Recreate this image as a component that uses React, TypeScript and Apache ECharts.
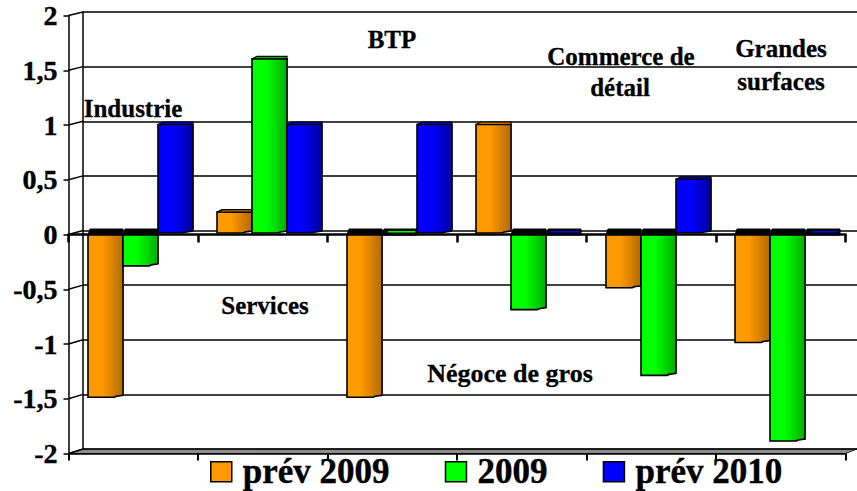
import React, { useEffect, useRef } from "react";
import * as echarts from "echarts";

const categories = ["Industrie", "Services", "BTP", "Négoce de gros", "Commerce de détail", "Grandes surfaces"];
const prev2009 = [-1.5, 0.2, -1.5, 1, -0.5, -1];
const real2009 = [-0.3, 1.6, 0, -0.7, -1.3, -1.9];
const prev2010 = [1, 1, 1, 0, 0.5, 0];
const seriesNames = ["prév 2009", "2009", "prév 2010"];
const seriesColors = ["#ff9900", "#00ff00", "#0000ff"];
const seriesDark = ["#b86e00", "#00b400", "#0000aa"];
const yTicks = [-2, -1.5, -1, -0.5, 0, 0.5, 1, 1.5, 2];

const FONT = '"Liberation Serif", serif';
const W = 857;
const H = 491;
const front = { left: 68.5, top: 15.5, width: 777, height: 438 };
const back = { left: 83, top: 12, width: 774, height: 437 };
const plane = { left: 75.5, top: 14, width: 777, height: 438 };
const BAR_FRACTION = 35 / 129.5;

const categoryLabels = [
  { text: "Industrie", x: 133, y: 108, size: 25 },
  { text: "BTP", x: 392, y: 39, size: 25 },
  { text: "Commerce de", x: 621, y: 56, size: 25 },
  { text: "détail", x: 620, y: 87, size: 25 },
  { text: "Grandes", x: 781, y: 48, size: 25 },
  { text: "surfaces", x: 781, y: 81, size: 25 },
  { text: "Services", x: 265, y: 305, size: 25 },
  { text: "Négoce de gros", x: 510, y: 373, size: 26 },
];

function makeRenderItem(seriesIndex: number) {
  const color = seriesColors[seriesIndex];
  const dark = seriesDark[seriesIndex];
  const fill = new echarts.graphic.LinearGradient(0, 0, 1, 0, [
    { offset: 0, color },
    { offset: 0.4, color },
    { offset: 0.95, color: dark },
    { offset: 1, color: dark },
  ]);
  return (params: any, api: any) => {
    const cat = api.value(0);
    const val = api.value(1);
    const band = api.size([1, 0])[0];
    const w = band * BAR_FRACTION;
    const center = api.coord([cat, 0])[0];
    const x = Math.round(center + (seriesIndex - 1.5) * w);
    const zero = api.coord([cat, 0])[1];
    const end = api.coord([cat, val])[1];
    const children: any[] = [];
    const capStyle = { fill: "#000", stroke: "#000", lineWidth: 1 };
    if (val <= 0) {
      const top = zero + 2;
      children.push({
        type: "polygon",
        shape: { points: [[x, top], [x + 2, top - 6], [x + w, top - 6], [x + w, top]] },
        style: capStyle,
      });
      if (val === 0) {
        children.push({
          type: "rect",
          shape: { x: x + 6, y: top - 4, width: w - 8, height: 1.5 },
          style: { fill: color },
        });
      }
    }
    if (val !== 0) {
      const top = val > 0 ? end + 1 : zero + 2;
      const bottom = val > 0 ? zero : end;
      const pts = [[x, top], [x + w, top], [x + w, bottom - 2], [x + w * 0.8, bottom - 1], [x + w * 0.75, bottom], [x, bottom]];
      children.push({
        type: "polygon",
        shape: { points: pts.map((p) => [p[0] + 1, p[1] + 0.5]) },
        style: { fill: "#a8a8a8" },
      });
      children.push({
        type: "polygon",
        shape: { points: pts },
        style: { fill, stroke: "#000", lineWidth: 1.6 },
      });
      if (val > 0) {
        children.push({
          type: "polygon",
          shape: { points: [[x, top], [x + 5, top - 2.5], [x + w, top - 2.5], [x + w, top]] },
          style: { fill: dark, stroke: "#000", lineWidth: 1.2 },
        });
      }
    }
    return { type: "group", children };
  };
}

function decorations() {
  const elements: any[] = [];
  const frontY = (v: number) => front.top + ((2 - v) / 4) * front.height;
  const backY = (v: number) => back.top + ((2 - v) / 4) * back.height;
  elements.push({
    type: "polygon",
    shape: {
      points: [
        [front.left, frontY(-2)],
        [back.left, backY(-2)],
        [W, backY(-2)],
        [front.left + front.width, frontY(-2)],
      ],
    },
    style: { fill: "#8c8c8c", stroke: "#222", lineWidth: 1 },
  });
  yTicks.forEach((v) => {
    elements.push({
      type: "line",
      shape: { x1: front.left, y1: frontY(v), x2: back.left, y2: backY(v) },
      style: { stroke: "#000", lineWidth: 1.5 },
    });
  });
  categoryLabels.forEach((l) => {
    elements.push({
      type: "text",
      x: l.x,
      y: l.y,
      style: {
        text: l.text,
        fill: "#000",
        font: `bold ${l.size}px ${FONT}`,
        textAlign: "center",
        textVerticalAlign: "middle",
        stroke: "#000",
        lineWidth: 0.3,
      },
      z: 20,
    });
  });
  return elements;
}

export default function App() {
  const ref = useRef<HTMLDivElement>(null);
  useEffect(() => {
    document.body.style.margin = "0";
    const chart = echarts.init(ref.current!, undefined, { renderer: "svg" });
    const values = [prev2009, real2009, prev2010];
    chart.setOption({
      animation: false,
      backgroundColor: "#fff",
      color: seriesColors,
      textStyle: { fontFamily: FONT },
      grid: [
        { ...back },
        { ...front },
        { ...plane },
      ],
      xAxis: [
        { type: "category", gridIndex: 0, data: categories, show: false },
        {
          type: "category",
          gridIndex: 1,
          data: categories,
          position: "top",
          axisLine: { onZero: true, lineStyle: { color: "#000", width: 2.5 } },
          axisTick: { show: true, inside: true, length: 8, lineStyle: { color: "#000", width: 2.5 } },
          axisLabel: { show: false },
        },
        {
          type: "category",
          gridIndex: 1,
          data: categories,
          position: "bottom",
          axisLine: { onZero: false, lineStyle: { color: "#000", width: 1.5 } },
          axisTick: { show: true, length: 7, lineStyle: { color: "#000", width: 2 } },
          axisLabel: { show: false },
        },
        { type: "category", gridIndex: 2, data: categories, show: false },
      ],
      yAxis: [
        {
          type: "value",
          gridIndex: 0,
          min: -2,
          max: 2,
          interval: 0.5,
          axisLine: { show: true, onZero: false, lineStyle: { color: "#000", width: 1.5 } },
          axisTick: { show: false },
          axisLabel: { show: false },
          splitLine: { show: true, lineStyle: { color: "#000", width: 1.6 } },
        },
        {
          type: "value",
          gridIndex: 1,
          min: -2,
          max: 2,
          interval: 0.5,
          axisLine: { show: true, onZero: false, lineStyle: { color: "#000", width: 1.5 } },
          axisTick: { show: true, length: 5, lineStyle: { color: "#000", width: 1.5 } },
          axisLabel: {
            color: "#000",
            fontFamily: FONT,
            fontWeight: "bold",
            fontSize: 28,
            margin: 11,
            textBorderColor: "#000",
            textBorderWidth: 0.4,
            formatter: (v: number) => String(v).replace(".", ","),
          },
          splitLine: { show: false },
        },
        { type: "value", gridIndex: 2, min: -2, max: 2, interval: 0.5, show: false, splitLine: { show: false } },
      ],
      legend: {
        left: 210,
        top: 454,
        itemWidth: 21,
        itemHeight: 20,
        itemGap: 55,
        padding: 0,
        icon: "rect",
        data: seriesNames.map((name, i) => ({
          name,
          itemStyle: { color: seriesColors[i], borderColor: "#000", borderWidth: 1.5 },
        })),
        textStyle: {
          color: "#000",
          fontFamily: FONT,
          fontWeight: "bold",
          fontSize: 35,
          padding: [0, 0, 0, 6],
          textBorderColor: "#000",
          textBorderWidth: 0.4,
        },
      },
      graphic: { elements: decorations() },
      series: seriesNames.map((name, i) => ({
        name,
        type: "custom",
        xAxisIndex: 3,
        yAxisIndex: 2,
        itemStyle: { color: seriesColors[i] },
        encode: { x: 0, y: 1 },
        data: values[i].map((v, c) => [c, v]),
        renderItem: makeRenderItem(i),
      })),
    });
    return () => chart.dispose();
  }, []);
  return <div ref={ref} style={{ width: W, height: H }} />;
}
